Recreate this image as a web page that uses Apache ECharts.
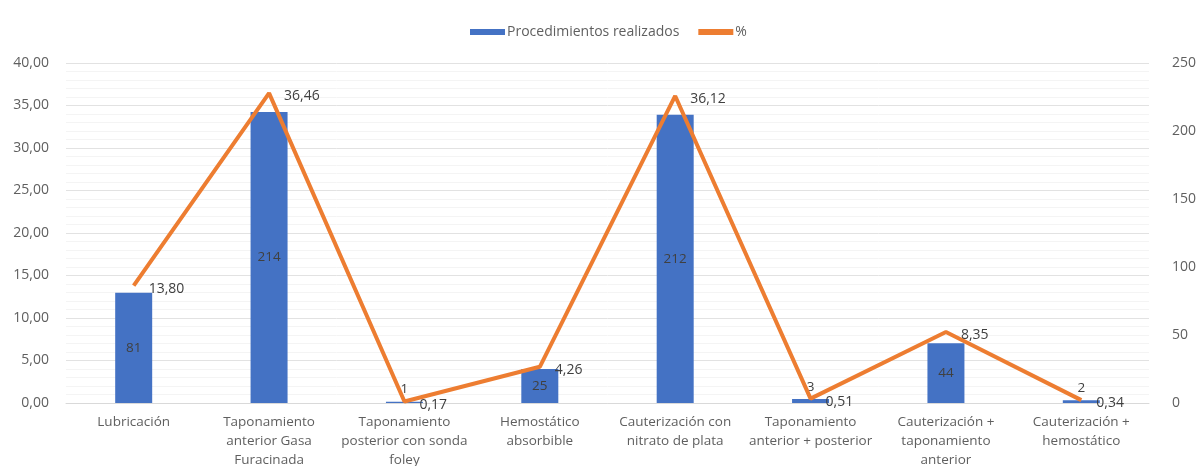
<!DOCTYPE html>
<html><head><meta charset="utf-8">
<script src="https://cdn.jsdelivr.net/npm/echarts@6/dist/echarts.min.js"></script>
<style>html,body{margin:0;padding:0;background:#fff}#c{width:1198px;height:466px}</style>
</head><body><div id="c"></div>
<script>
const categories = ["Lubricación","Taponamiento\nanterior Gasa\nFuracinada","Taponamiento\nposterior con sonda\nfoley","Hemostático\nabsorbible","Cauterización con\nnitrato de plata","Taponamiento\nanterior + posterior","Cauterización +\ntaponamiento\nanterior","Cauterización +\nhemostático"];
const procedimientos = [81,214,1,25,212,3,44,2];
const porcentaje = [13.80,36.46,0.17,4.26,36.12,0.51,8.35,0.34];
const leftTicks = [0,5,10,15,20,25,30,35,40];
const rightTicks = [0,50,100,150,200,250];

const font = "Open Sans";
const txt = '#5f5f5f';
const chart = echarts.init(document.getElementById('c'));
chart.setOption({
  animation:false,
  textStyle:{fontFamily:font},
  legend:{top:20,left:465,itemWidth:35,itemHeight:6,itemGap:19,
    textStyle:{fontSize:14,color:txt,fontFamily:font,padding:[0,0,0,-3]},
    data:[{name:'Procedimientos realizados',icon:'rect'},{name:'%',icon:'rect',itemStyle:{color:'#ED7D31'}}]},
  grid:{left:66,right:49,top:63,bottom:63,containLabel:false,outerBoundsMode:'none'},
  xAxis:{type:'category',data:categories,
    axisLine:{lineStyle:{color:'#d9d9d9'}},axisTick:{show:false},
    axisLabel:{fontSize:13.5,color:txt,interval:0,lineHeight:19,margin:10,fontFamily:font}},
  yAxis:[
    {type:'value',min:leftTicks[0],max:leftTicks[leftTicks.length-1],interval:5,
     axisLabel:{formatter:v=>v.toFixed(2).replace('.',','),fontSize:14,color:txt,margin:17,fontFamily:font},
     splitLine:{lineStyle:{color:'#e2e2e2'}},
     minorTick:{show:false,splitNumber:5},
     minorSplitLine:{show:true,lineStyle:{color:'#f4f4f4'}}},
    {type:'value',min:rightTicks[0],max:rightTicks[rightTicks.length-1],interval:50,
     axisLabel:{fontSize:14,color:txt,margin:23,fontFamily:font},
     splitLine:{show:false}}
  ],
  series:[
    {name:'Procedimientos realizados',type:'bar',yAxisIndex:1,barWidth:37,
     itemStyle:{color:'#4472C4'},
     data:procedimientos.map(v=>({value:v,label:{position:v<10?'top':'inside',distance:5}})),
     label:{show:true,color:'#404040',fontSize:13.5,fontFamily:font},z:2},
    {name:'%',type:'line',yAxisIndex:0,data:porcentaje,
     lineStyle:{color:'#ED7D31',width:4},itemStyle:{color:'#ED7D31'},
     symbol:'circle',symbolSize:0,showSymbol:true,
     label:{show:true,position:'right',distance:15,offset:[0,3],color:'#404040',fontSize:14,fontFamily:font,
       formatter:p=>p.value.toFixed(2).replace('.',',')},z:3}
  ]
});
</script></body></html>
